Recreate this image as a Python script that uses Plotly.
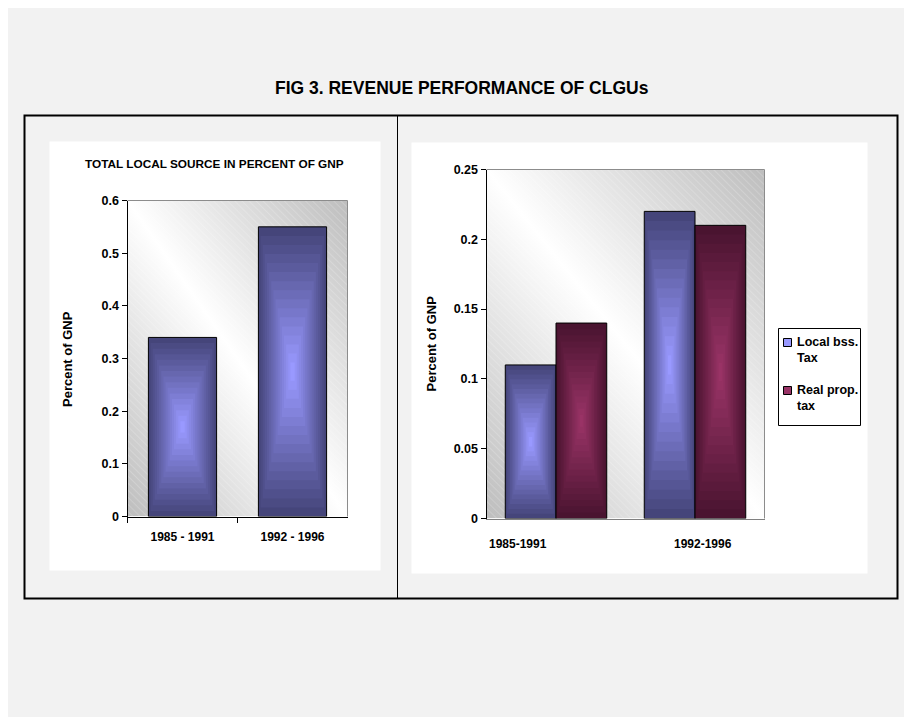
import base64
import plotly.graph_objects as go

# ---------------- data ----------------
left_categories = ["1985 - 1991", "1992 - 1996"]
left_values = [0.34, 0.55]
left_yticks = [0, 0.1, 0.2, 0.3, 0.4, 0.5, 0.6]

right_categories = ["1985-1991", "1992-1996"]
local_bss_tax = [0.11, 0.22]
real_prop_tax = [0.14, 0.21]
series_names = ["Local bss.<br>Tax", "Real prop.<br>tax"]
right_yticks = [0, 0.05, 0.1, 0.15, 0.2, 0.25]

main_title = "FIG 3. REVENUE PERFORMANCE OF CLGUs"
left_title = "TOTAL LOCAL SOURCE IN PERCENT OF GNP"
y_title = "Percent of GNP"

# ---------------- styling helpers ----------------
W, H = 912, 717
FONT = "Liberation Sans, Arial, sans-serif"
OFF = 7.5  # page margin of the host document


def px(x):
    # screen pixel -> paper fraction (horizontal)
    return (x - OFF) / W


def py(y):
    # screen pixel -> paper fraction (vertical)
    return 1 - (y - OFF) / H


def hex2rgb(h):
    h = h.lstrip("#")
    return tuple(int(h[i:i + 2], 16) for i in (0, 2, 4))


def mix(c1, c2, t):
    a, b = hex2rgb(c1), hex2rgb(c2)
    return "rgb(%d,%d,%d)" % tuple(round(a[i] + (b[i] - a[i]) * t) for i in range(3))


BLUE_EDGE, BLUE_CENTER = "#45457a", "#9999ff"
RED_EDGE, RED_CENTER = "#4a1430", "#993366"
NLAYERS = 16


def bg_image(w, h):
    svg = f'''<svg xmlns="http://www.w3.org/2000/svg" width="{w}" height="{h}" viewBox="0 0 {w} {h}" preserveAspectRatio="none">
<defs>
<linearGradient id="g" x1="0" y1="1" x2="1" y2="0">
<stop offset="0" stop-color="#bdbdbd"/>
<stop offset="0.5" stop-color="#ffffff"/>
<stop offset="1" stop-color="#bdbdbd"/>
</linearGradient>
<pattern id="h" width="5" height="5" patternUnits="userSpaceOnUse" patternTransform="rotate(-45)">
<line x1="0" y1="0" x2="0" y2="5" stroke="#ffffff" stroke-width="1" stroke-opacity="0.35"/>
</pattern>
</defs>
<rect width="{w}" height="{h}" fill="url(#g)"/>
<rect width="{w}" height="{h}" fill="url(#h)"/>
</svg>'''
    return "data:image/svg+xml;base64," + base64.b64encode(svg.encode()).decode()


fig = go.Figure()

# ---------------- left chart: nested bars for the rectangular gradient ----------------
LEFT_W = 0.62
for k in range(NLAYERS):
    s = 1 - k / NLAYERS
    t = k / (NLAYERS - 1)
    fig.add_trace(go.Bar(
        x=left_categories,
        y=[v * s for v in left_values],
        base=[v * (1 - s) / 2 for v in left_values],
        width=LEFT_W * s,
        marker=dict(color=mix(BLUE_EDGE, BLUE_CENTER, t),
                    line=dict(color="black", width=1 if k == 0 else 0)),
        showlegend=False, hoverinfo="skip",
        xaxis="x", yaxis="y",
    ))

# ---------------- right chart ----------------
BAR_W = 0.365
series_colors = [(BLUE_EDGE, BLUE_CENTER), (RED_EDGE, RED_CENTER)]
for vals, (edge, center), side in [(local_bss_tax, series_colors[0], -1),
                                   (real_prop_tax, series_colors[1], 1)]:
    for k in range(NLAYERS):
        s = 1 - k / NLAYERS
        t = k / (NLAYERS - 1)
        fig.add_trace(go.Bar(
            x=right_categories,
            y=[v * s for v in vals],
            base=[v * (1 - s) / 2 for v in vals],
            width=BAR_W * s,
            offset=side * BAR_W / 2 - BAR_W * s / 2,
            marker=dict(color=mix(edge, center, t),
                        line=dict(color="black", width=1 if k == 0 else 0)),
            showlegend=False, hoverinfo="skip",
            xaxis="x2", yaxis="y2",
        ))

tickfont = dict(family=FONT, size=12.5, color="black", weight="bold")
xtickfont = dict(family=FONT, size=12, color="black", weight="bold")

fig.update_layout(
    width=W, height=H, autosize=False,
    margin=dict(l=0, r=0, t=0, b=0),
    paper_bgcolor="#f2f2f2",
    plot_bgcolor="rgba(0,0,0,0)",
    barmode="overlay",
    showlegend=False,
    font=dict(family=FONT, color="black"),
    xaxis=dict(domain=[px(127), px(347)], anchor="y", type="category",
               range=[-0.5, 1.5], showgrid=False, zeroline=False,
               showline=True, linecolor="black", linewidth=1,
               ticks="outside", ticklen=5, tickcolor="black",
               tickson="boundaries", tickfont=xtickfont, ticklabelstandoff=9,
               automargin=False, fixedrange=True),
    yaxis=dict(domain=[py(516), py(200)], anchor="x", range=[0, 0.6],
               tickvals=left_yticks, showgrid=False, zeroline=False,
               showline=True, linecolor="black", linewidth=1,
               ticks="outside", ticklen=5, tickcolor="black",
               tickfont=tickfont, automargin=False, fixedrange=True),
    xaxis2=dict(domain=[px(486), px(764)], anchor="y2", type="category",
                range=[-0.5, 1.5], showgrid=False, zeroline=False,
                showline=True, linecolor="#808080", linewidth=1,
                ticks="", showticklabels=False, automargin=False, fixedrange=True),
    yaxis2=dict(domain=[py(518), py(169)], anchor="x2", range=[0, 0.25],
                tickvals=right_yticks, showgrid=False, zeroline=False,
                showline=True, linecolor="black", linewidth=1,
                ticks="outside", ticklen=5, tickcolor="black",
                tickfont=tickfont, automargin=False, fixedrange=True),
)

# panels and frame
fig.add_shape(type="rect", xref="paper", yref="paper",
              x0=px(49), x1=px(380), y0=py(570), y1=py(141),
              fillcolor="white", line=dict(width=0), layer="below")
fig.add_shape(type="rect", xref="paper", yref="paper",
              x0=px(411), x1=px(867), y0=py(573), y1=py(142),
              fillcolor="white", line=dict(width=0), layer="below")
fig.add_shape(type="rect", xref="paper", yref="paper",
              x0=px(24), x1=px(897), y0=py(598), y1=py(115),
              fillcolor="rgba(0,0,0,0)", line=dict(color="black", width=2), layer="below")
fig.add_shape(type="line", xref="paper", yref="paper",
              x0=px(397), x1=px(397), y0=py(598), y1=py(115),
              line=dict(color="black", width=1), layer="below")

# plot-area top/right borders
for xr, yr in [("x", "y"), ("x2", "y2")]:
    fig.add_shape(type="line", xref=f"{xr} domain", yref=f"{yr} domain",
                  x0=0, x1=1, y0=1, y1=1, line=dict(color="#8c8c8c", width=1), layer="above")
    fig.add_shape(type="line", xref=f"{xr} domain", yref=f"{yr} domain",
                  x0=1, x1=1, y0=0, y1=1, line=dict(color="#8c8c8c", width=1), layer="above")

# gradient plot backgrounds
fig.add_layout_image(dict(source=bg_image(220, 316), xref="x", yref="y",
                          x=-0.5, y=left_yticks[-1], sizex=2, sizey=left_yticks[-1],
                          xanchor="left", yanchor="top", sizing="stretch", layer="below"))
fig.add_layout_image(dict(source=bg_image(278, 349), xref="x2", yref="y2",
                          x=-0.5, y=right_yticks[-1], sizex=2, sizey=right_yticks[-1],
                          xanchor="left", yanchor="top", sizing="stretch", layer="below"))

# legend (box, swatches and labels)
fig.add_shape(type="rect", xref="paper", yref="paper",
              x0=px(778), x1=px(860), y0=py(425), y1=py(328),
              fillcolor="white", line=dict(color="black", width=1))
for (edge, center), y_sw, y_txt, name in zip(series_colors, [342, 390], [349.5, 397.5],
                                              series_names):
    fig.add_shape(type="rect", xref="paper", yref="paper",
                  x0=px(783), x1=px(791), y0=py(y_sw + 4), y1=py(y_sw - 4),
                  fillcolor=center, line=dict(color="black", width=1))
    fig.add_annotation(text=name, xref="paper", yref="paper", x=px(794), y=py(y_txt),
                       xanchor="left", yanchor="middle", align="left", showarrow=False,
                       font=dict(family=FONT, size=12.5, weight="bold", color="black"))

# titles
fig.add_annotation(text=main_title, xref="paper", yref="paper", x=px(461), y=py(88),
                   xanchor="center", yanchor="middle", showarrow=False,
                   font=dict(family=FONT, size=17.5, weight="bold", color="black"))
fig.add_annotation(text=left_title, xref="paper", yref="paper", x=px(214), y=py(163),
                   xanchor="center", yanchor="middle", showarrow=False,
                   font=dict(family=FONT, size=11.8, weight="bold", color="black"))
for xp, yr in [(67, "y domain"), (430, "y2 domain")]:
    fig.add_annotation(text=y_title, xref="paper", yref=yr, x=px(xp), y=0.5,
                       xanchor="center", yanchor="middle",
                       textangle=-90, showarrow=False,
                       font=dict(family=FONT, size=13, weight="bold", color="black"))

# right chart category labels (drawn slightly off-centre as in the original)
for cat, shift in zip(right_categories, [-38, 8]):
    fig.add_annotation(text=cat, xref="x2", yref="paper", x=cat, y=py(543),
                       xanchor="center", yanchor="middle",
                       xshift=shift, showarrow=False, font=xtickfont)

fig.write_html("out.html")
